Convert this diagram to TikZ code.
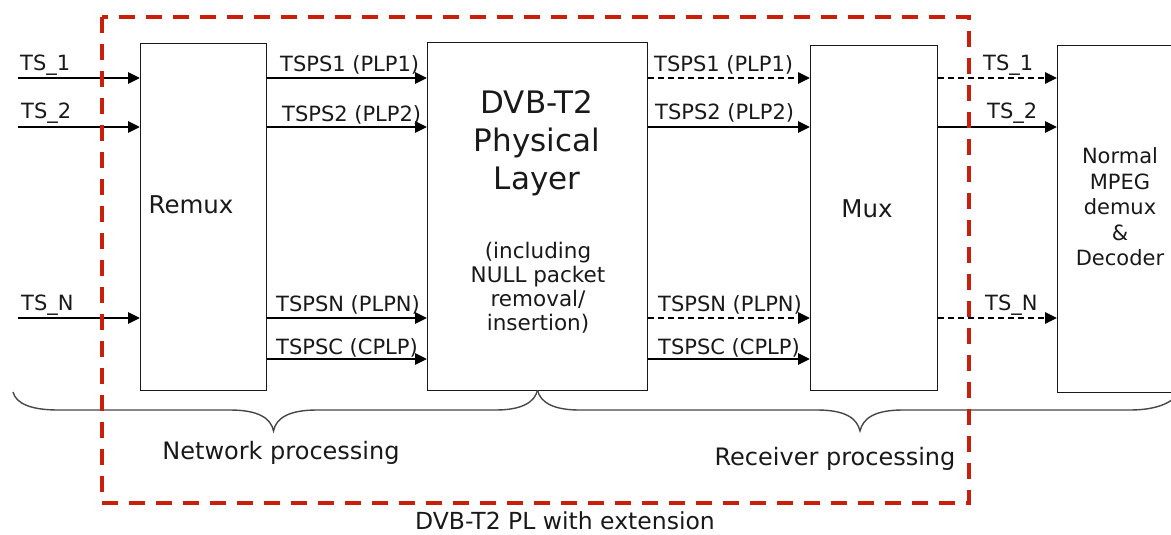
\documentclass[tikz,border=0pt]{standalone}
\usepackage{fontspec}
\setmainfont{DejaVu Sans}
\usetikzlibrary{arrows.meta}
\definecolor{dvbred}{RGB}{200,30,10}
\definecolor{ink}{RGB}{25,25,25}
\newcommand{\fsz}[2]{\fontsize{#1}{#2}\selectfont}
\begin{document}
\begin{tikzpicture}[x=1pt,y=-1pt,
  box/.style={draw=ink, line width=1.3pt, anchor=north west, inner sep=0pt},
  arr/.style={draw=black, line width=2.8pt, -{Triangle[length=12pt,width=11pt]}},
  darr/.style={arr, dash pattern=on 6pt off 4pt},
  lbl/.style={anchor=west, inner sep=0pt, text=ink, font=\fsz{21}{25}},
  txt/.style={inner sep=0pt, text=ink, align=center},
  bracepath/.style={draw=ink!80, line width=1.4pt},
  redbox/.style={draw=dvbred, line width=4pt, dash pattern=on 16pt off 11pt}]
\useasboundingbox (0,0) rectangle (1171,535);
\clip (0,0) rectangle (1171,535);

% boxes
\node[box, minimum width=126pt, minimum height=347pt] (remux) at (140,43) {};
\node[box, minimum width=220pt, minimum height=348pt] (dvb) at (427,42) {};
\node[box, minimum width=127pt, minimum height=345pt] (mux) at (810,45) {};
\node[box, minimum width=140pt, minimum height=347pt] (mpeg) at (1057,45) {};

% box texts
\node[txt, font=\fsz{24.5}{28}] (tremux) at (191,205) {Remux};
\node[txt, font=\fsz{24.5}{28}] (tmux) at (867,209) {Mux};
\node[txt, font=\fsz{21}{25.5}] (tmpeg) at (1120,207) {Normal\\MPEG\\demux\\\&\\Decoder};
\node[txt, font=\fsz{31}{38}] (tdvb) at (537,143) {DVB-T2\\Physical\\Layer};
\node[txt, font=\fsz{21.5}{24}] (tdvbsub) at (538,288) {(including\\NULL packet\\removal/\\insertion)};

% y levels
\coordinate (ya) at (0,78);
\coordinate (yb) at (0,127);
\coordinate (yn) at (0,318);
\coordinate (yc) at (0,359);

% inputs
\coordinate (in1) at (18,78);
\coordinate (in2) at (18,127);
\coordinate (inN) at (18,318);
\draw[arr] (in1) -- (remux.west |- ya);
\draw[arr] (in2) -- (remux.west |- yb);
\draw[arr] (inN) -- (remux.west |- yn);
\node[lbl] (lts1) at (20,65) {TS\_1};
\node[lbl] (lts2) at (21,113) {TS\_2};
\node[lbl] (ltsn) at (21,305) {TS\_N};

% remux -> dvb
\draw[arr] (remux.east |- ya) -- (dvb.west |- ya);
\draw[arr] (remux.east |- yb) -- (dvb.west |- yb);
\draw[arr] (remux.east |- yn) -- (dvb.west |- yn);
\draw[arr] (remux.east |- yc) -- (dvb.west |- yc);
\node[lbl] (l1) at (280,65) {TSPS1 (PLP1)};
\node[lbl] (l2) at (282,115) {TSPS2 (PLP2)};
\node[lbl] (l3) at (276,305) {TSPSN (PLPN)};
\node[lbl] (l4) at (276,348) {TSPSC (CPLP)};

% dvb -> mux
\draw[darr] (dvb.east |- ya) -- (mux.west |- ya);
\draw[arr] (dvb.east |- yb) -- (mux.west |- yb);
\draw[darr] (dvb.east |- yn) -- (mux.west |- yn);
\draw[arr] (dvb.east |- yc) -- (mux.west |- yc);
\node[lbl] (r1) at (654,65) {TSPS1 (PLP1)};
\node[lbl] (r2) at (655,113) {TSPS2 (PLP2)};
\node[lbl] (r3) at (658,305) {TSPSN (PLPN)};
\node[lbl] (r4) at (658,348) {TSPSC (CPLP)};

% mux -> mpeg
\draw[darr] (mux.east |- ya) -- (mpeg.west |- ya);
\draw[arr] (mux.east |- yb) -- (mpeg.west |- yb);
\draw[darr] (mux.east |- yn) -- (mpeg.west |- yn);
\node[lbl] (o1) at (983,65) {TS\_1};
\node[lbl] (o2) at (987,113) {TS\_2};
\node[lbl] (oN) at (985,305) {TS\_N};

% braces
\draw[bracepath] (13,392) .. controls (16,404) and (32,410) .. (58,410) -- (230,410)
  .. controls (258,410) and (271,418) .. (273.5,431)
  .. controls (276,418) and (289,410) .. (317,410) -- (496,410)
  .. controls (522,410) and (535,402) .. (537.5,390);
\draw[bracepath] (537.5,390) .. controls (540,402) and (553,410) .. (579,410) -- (817,410)
  .. controls (845,410) and (857,418) .. (860,431)
  .. controls (863,418) and (875,410) .. (903,410) -- (1130,410)
  .. controls (1158,410) and (1176,402) .. (1181,388);
\node[txt, font=\fsz{24}{28}] (tnet) at (281,453) {Network processing};
\node[txt, font=\fsz{24}{28}] (trec) at (835,459) {Receiver processing};

% red extension frame
\draw[redbox] (102,17) rectangle (969,503);
\node[txt, font=\fsz{23.5}{27}] (tcap) at (565,521) {DVB-T2 PL with extension};
\end{tikzpicture}
\end{document}
